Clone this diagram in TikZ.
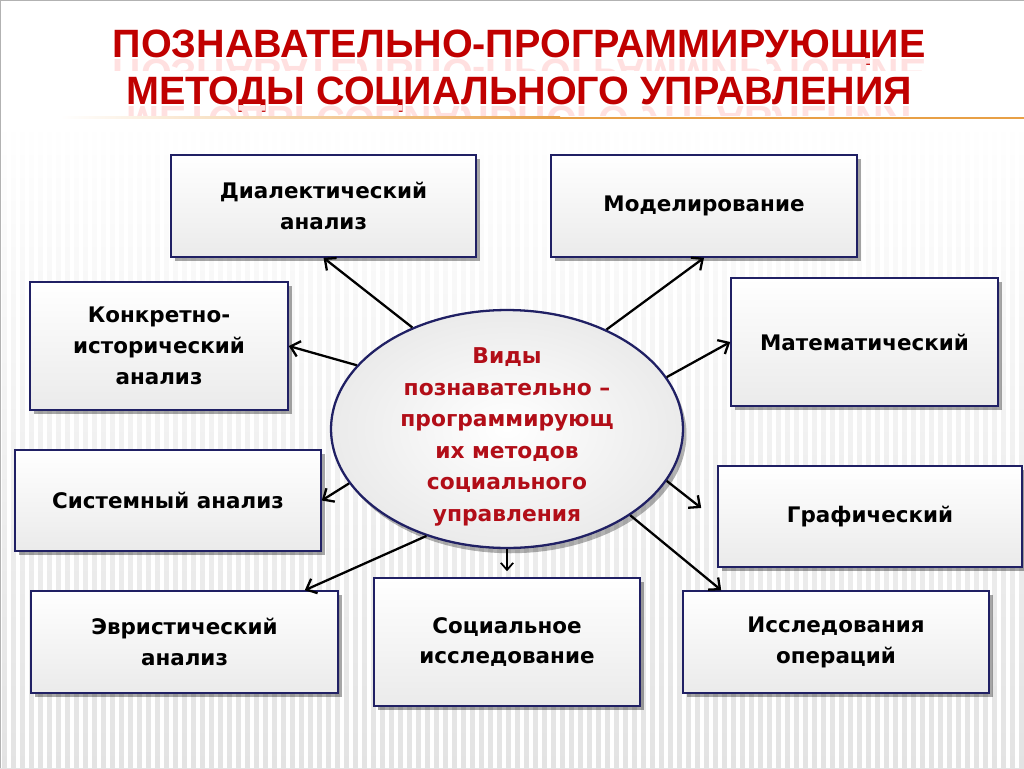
\documentclass[tikz,border=0pt]{standalone}
\usepackage{fontspec}
\setmainfont{DejaVu Sans}
\newfontfamily\titlefont{Liberation Sans}
\usetikzlibrary{shapes.geometric,arrows.meta,shadows,calc}
\definecolor{titlered}{RGB}{192,0,0}
\definecolor{elltxt}{RGB}{178,14,24}
\definecolor{navy}{RGB}{32,32,100}
\definecolor{goldline}{RGB}{232,160,70}
\begin{document}
\begin{tikzpicture}[x=0.02cm,y=-0.02cm,
  box/.style={draw=navy, line width=0.9pt, top color=white, bottom color=gray!16,
    drop shadow={shadow xshift=2.5pt, shadow yshift=-2.5pt, opacity=0.35, fill=black},
    align=center, inner sep=0pt,
    font=\bfseries\fontsize{12.2}{17.6}\selectfont},
  ellstyle/.style={ellipse, draw=navy, line width=1.3pt, inner sep=0pt,
    inner color=white, outer color=gray!16,
    drop shadow={shadow xshift=2pt, shadow yshift=-3pt, opacity=0.3, fill=black},
    minimum width=7.04cm, minimum height=4.76cm},
  elltext/.style={align=center, text=elltxt, font=\bfseries\fontsize{12.4}{17.9}\selectfont},
  titlestyle/.style={anchor=base, inner sep=0pt, font=\titlefont\bfseries\fontsize{22.5}{22.5}\selectfont},
  arr/.style={-{Straight Barb[length=5pt,width=9pt]}, line width=1.3pt, black},
  thinarr/.style={-{Straight Barb[length=4pt,width=7pt]}, line width=1pt, black}
]
% background
\useasboundingbox (0,0) rectangle (1024,768);
\fill[white] (0,0) rectangle (1024,768);
\shade[top color=white, bottom color=gray!22] (0,120) rectangle (1024,768);
\foreach \x in {0,9,...,1024} \draw[white, line width=2.2pt] (\x,122) -- (\x,768);
\draw[gray!60, line width=0.8pt] (0,768) -- (0,0) -- (1024,0);

% title
\node[titlestyle, text=titlered] (t1) at (519,57) {ПОЗНАВАТЕЛЬНО-ПРОГРАММИРУЮЩИЕ};
\node[titlestyle, text=titlered] (t2) at (519,104) {МЕТОДЫ СОЦИАЛЬНОГО УПРАВЛЕНИЯ};
\begin{scope}
  \clip (0,58) rectangle (1024,70);
  \node[titlestyle, text=red!12] (r1) at (519,59) {\scalebox{1}[-1]{ПОЗНАВАТЕЛЬНО-ПРОГРАММИРУЮЩИЕ}};
\end{scope}
\begin{scope}
  \clip (0,105) rectangle (1024,115);
  \node[titlestyle, text=red!12] (r2) at (519,106) {\scalebox{1}[-1]{МЕТОДЫ СОЦИАЛЬНОГО УПРАВЛЕНИЯ}};
\end{scope}
\shade[left color=white, right color=goldline] (60,116.5) rectangle (560,118.5);
\fill[goldline] (560,116.5) rectangle (1024,118.5);

% boxes
\node[box, minimum width=6.10cm, minimum height=2.04cm] (dial) at (323.5,206) {Диалектический\\анализ};
\node[box, minimum width=6.12cm, minimum height=2.04cm] (model) at (704,206) {Моделирование};
\node[box, minimum width=5.16cm, minimum height=2.56cm] (konk) at (159,346) {Конкретно-\\исторический\\анализ};
\node[box, minimum width=5.34cm, minimum height=2.56cm] (math) at (864.5,342) {Математический};
\node[box, minimum width=6.12cm, minimum height=2.02cm] (sys) at (168,500.5) {Системный анализ};
\node[box, minimum width=6.08cm, minimum height=2.02cm] (graf) at (870,516.5) {Графический};
\node[box, minimum width=6.14cm, minimum height=2.04cm] (evr) at (184.5,642) {Эвристический\\анализ};
\node[box, minimum width=5.32cm, minimum height=2.56cm] (soc) at (507,642) {Социальное\\исследование};
\node[box, minimum width=6.12cm, minimum height=2.04cm] (issl) at (836,642) {Исследования\\операций};

% center ellipse
\node[ellstyle] (ell) at (507,429) {};
\node[elltext] (etext) at (507,437) {Виды\\познавательно –\\программирующ\\их методов\\социального\\управления};

% connectors
\draw[arr] (ell.133) -- (dial.south);
\draw[arr] (ell.45) -- (model.south);
\draw[arr] (ell.157.6) -- (konk.east);
\draw[arr] (ell.18.5) -- (math.west);
\draw[arr] (ell.199.6) -- (sys.east);
\coordinate (gend) at ($(graf.west)+(-16,-8.5)$);
\draw[arr] (ell.-18.5) -- (gend);
\draw[arr] (ell.233.5) -- ($(evr.north east)+(-34,0)$);
\draw[thinarr] (ell.south) -- ($(soc.north)+(0,-6)$);
\draw[arr] (ell.-35) -- ($(issl.north west)+(39,0)$);
\end{tikzpicture}
\end{document}
